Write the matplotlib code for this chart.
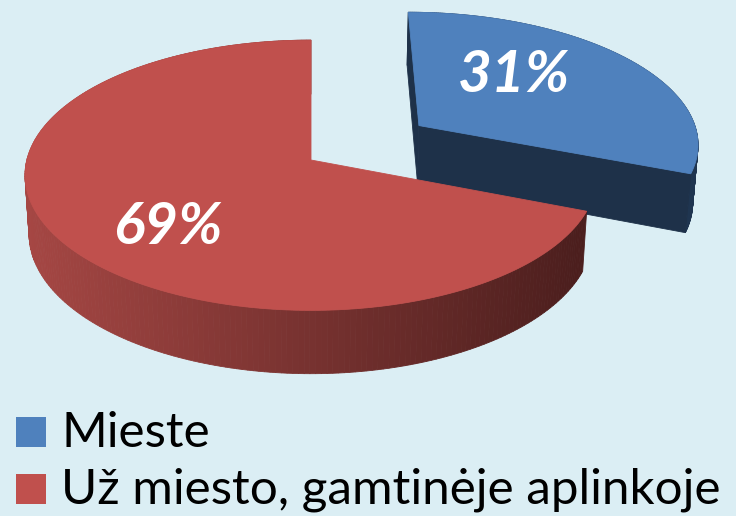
import numpy as np
import matplotlib
matplotlib.use("Agg")
from matplotlib import pyplot as plt
from matplotlib.patches import Polygon, Rectangle
from matplotlib.colors import to_rgb

# data
categories = ["Mieste", "Už miesto, gamtinėje aplinkoje"]
shares = [31, 69]
pct_labels = ["31%", "69%"]
top_colors = ["#4F81BD", "#C0504D"]
explode = [0.473, 0.0]

bg = "#DBEEF4"

# simple perspective camera for the 3d pie (pixel space)
elev = np.radians(28.0)
dist = 7.83
focal = 2225.0
thick = 0.236
cx, cy = 311.0, 160.0


def project(X, Z, Y):
    X = np.asarray(X, float)
    Z = np.asarray(Z, float)
    Y = np.asarray(Y, float)
    yc = Y * np.cos(elev) + Z * np.sin(elev)
    d = dist + Z * np.cos(elev) - Y * np.sin(elev)
    return cx + focal * X / d, cy - focal * yc / d


def mix(c1, c2, t):
    a, b = np.array(to_rgb(c1)), np.array(to_rgb(c2))
    return tuple(a + (b - a) * t)


fig = plt.figure(figsize=(7.36, 5.16), dpi=100)
fig.patch.set_facecolor(bg)
ax = fig.add_axes([0, 0, 1, 1])
ax.set_xlim(0, 736)
ax.set_ylim(516, 0)
ax.axis("off")

fracs = np.array(shares, float) / sum(shares)
starts = np.concatenate([[0], np.cumsum(fracs)[:-1]]) * 2 * np.pi
ends = np.cumsum(fracs) * 2 * np.pi

side_light = {0: "#1F3550", 1: "#A64744"}
side_dark = {0: "#1F3550", 1: "#4B1E1D"}

# blue (exploded, further back) first, red on top of it
for i in [0, 1]:
    a0, a1 = starts[i], ends[i]
    mid = 0.5 * (a0 + a1)
    ox, oz = explode[i] * np.sin(mid), explode[i] * np.cos(mid)
    th = np.linspace(a0, a1, 240)
    X = ox + np.sin(th)
    Z = oz + np.cos(th)
    tx, ty = project(X, Z, np.zeros_like(X))
    bx, by = project(X, Z, np.full_like(X, -thick))

    # outer wall
    for k in range(len(th) - 1):
        t = np.clip((tx[k] - 22) / (585 - 22), 0, 1)
        col = mix(side_light[i], side_dark[i], t)
        quad = [(tx[k], ty[k]), (tx[k + 1], ty[k + 1]),
                (bx[k + 1], by[k + 1]), (bx[k], by[k])]
        ax.add_patch(Polygon(quad, closed=True, facecolor=col,
                             edgecolor=col, lw=0.6))

    # cut faces of the pulled-out slice
    c_tx, c_ty = project(ox, oz, 0.0)
    c_bx, c_by = project(ox, oz, -thick)
    if i == 0:
        for j in [0, -1]:
            face = [(c_tx, c_ty), (tx[j], ty[j]), (bx[j], by[j]), (c_bx, c_by)]
            ax.add_patch(Polygon(face, closed=True, facecolor="#1E3149",
                                 edgecolor="#1E3149", lw=0.6))

    # top face
    top = [(c_tx, c_ty)] + list(zip(tx, ty))
    ax.add_patch(Polygon(top, closed=True, facecolor=top_colors[i],
                         edgecolor=top_colors[i], lw=0.6))

label_pos = [(514, 75), (168, 228)]
for lab, (lx, ly) in zip(pct_labels, label_pos):
    ax.text(lx, ly, lab, color="white", fontsize=42, fontweight="bold",
            fontstyle="italic", family=["Lato", "DejaVu Sans"],
            ha="center", va="center")

# legend
leg_base = [447, 504]
for name, col, y in zip(categories, top_colors, leg_base):
    ax.add_patch(Rectangle((16, y - 30), 30, 30, facecolor=col,
                           edgecolor="none"))
    ax.text(61, y, name, fontsize=35.6, color="black",
            family=["Lato", "DejaVu Sans"],
            ha="left", va="baseline")

fig.savefig("out.png", dpi=100, facecolor=bg)
